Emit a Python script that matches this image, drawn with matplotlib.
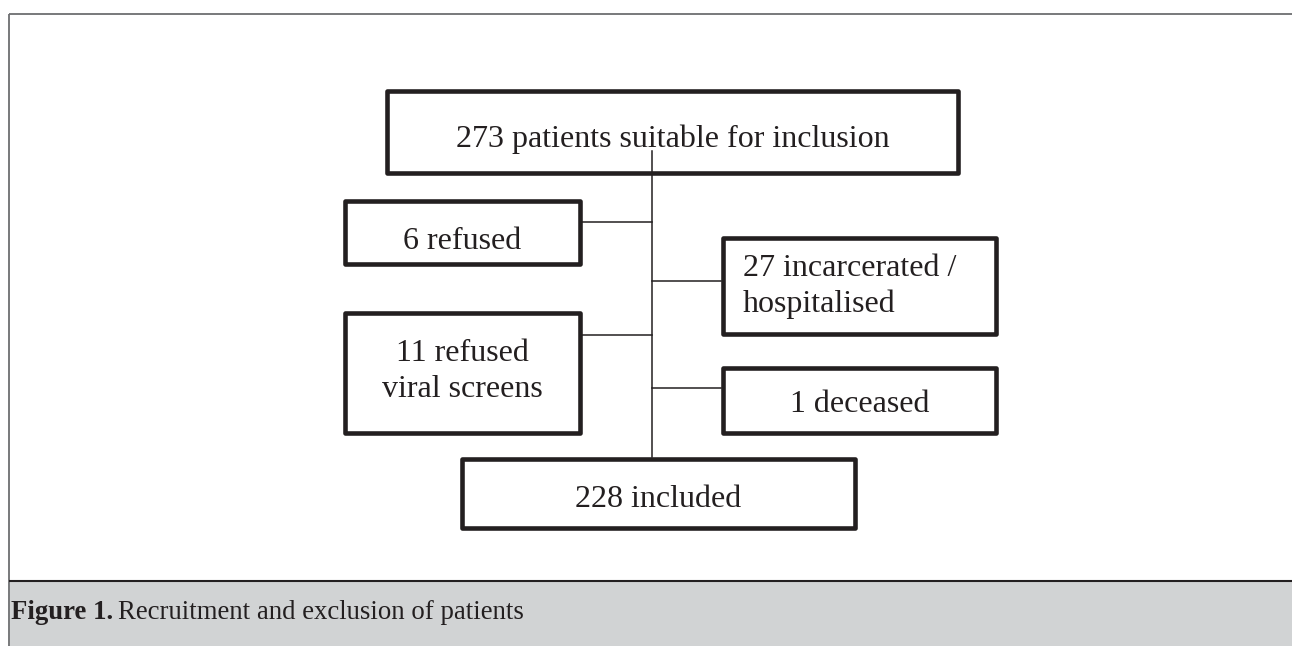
import matplotlib
matplotlib.use("Agg")
import matplotlib.pyplot as plt
from matplotlib.patches import Rectangle

plt.rcParams['font.family'] = ['Liberation Serif', 'DejaVu Serif']

# flowchart content
counts = [273, 6, 27, 11, 1, 228]
descriptions = ["patients suitable for inclusion", "refused", "incarcerated /\nhospitalised",
                "refused\nviral screens", "deceased", "included"]
caption_bold = "Figure 1."
caption_text = "Recruitment and exclusion of patients"

# layout in pixel coords (x0, x1, y0, y1), y downwards
boxes = [(385, 960, 89, 175), (343, 582, 199, 266), (721, 998, 236, 336),
         (343, 582, 311, 435), (721, 998, 366, 435), (460, 857, 457, 530)]
baselines = [147, 249, 312, 397, 412, 507]  # baseline of the last line
align = ["center", "center", "left", "center", "center", "center"]
trunk_x = 652
trunk_y = (151, 457)
connectors = [(582, 222), (721, 281), (582, 335), (721, 388)]

ink = "#231f20"
W, H = 1292, 646

fig = plt.figure(figsize=(12.92, 6.46), dpi=100)
ax = fig.add_axes([0, 0, 1, 1])
ax.set_xlim(0, W)
ax.set_ylim(H, 0)
ax.axis("off")

# outer frame and caption band
ax.plot([9, W], [14, 14], color="#6d6e71", lw=1.3, solid_capstyle="butt")
ax.plot([9, 9], [14, H], color="#6d6e71", lw=1.3, solid_capstyle="butt")
ax.add_patch(Rectangle((9.5, 581), W, H - 581, facecolor="#d1d3d4", edgecolor="none"))
ax.plot([9, W], [581, 581], color=ink, lw=1.5, solid_capstyle="butt")

# connector lines
ax.plot([trunk_x, trunk_x], trunk_y, color=ink, lw=1.1)
for x, y in connectors:
    ax.plot([x, trunk_x], [y, y], color=ink, lw=1.1)

ins = 2.2
for (x0, x1, y0, y1), base, n, d, a in zip(boxes, baselines, counts, descriptions, align):
    ax.add_patch(Rectangle((x0 + ins, y0 + ins), x1 - x0 - 2 * ins, y1 - y0 - 2 * ins,
                           facecolor="white", edgecolor=ink, lw=3.3, joinstyle="round"))
    label = f"{n} {d}"
    if a == "left":
        ax.text(x0 + 22, base, label, ha="left", va="baseline", fontsize=23,
                color=ink, linespacing=1.31)
    else:
        ax.text((x0 + x1) / 2, base, label, ha="center", va="baseline", fontsize=23,
                color=ink, linespacing=1.31, multialignment="center")

t1 = ax.text(11, 619, caption_bold, fontsize=19.3, fontweight="bold", color=ink,
             ha="left", va="baseline")
fig.canvas.draw()
bb = t1.get_window_extent()
x_next = ax.transData.inverted().transform((bb.x1, bb.y0))[0]
ax.text(x_next + 5, 619, caption_text, fontsize=19.3, color=ink, ha="left", va="baseline")

fig.savefig("out.png", dpi=100)
